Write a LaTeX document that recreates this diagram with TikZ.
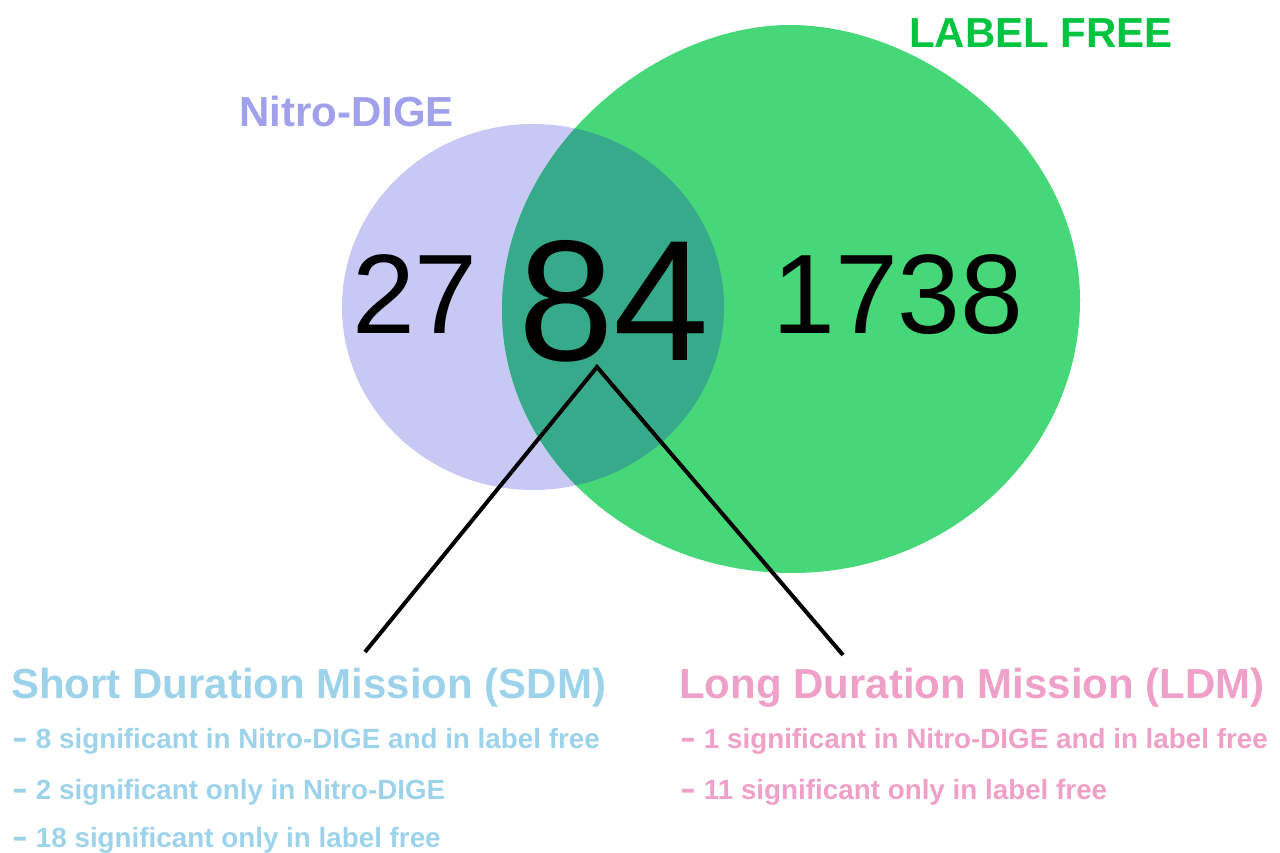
\documentclass[tikz,border=0pt]{standalone}
\usepackage{fontspec}
\setmainfont{Liberation Sans}
\usetikzlibrary{shapes.geometric}
\definecolor{nitrofill}{RGB}{200,200,245}
\definecolor{lffill}{RGB}{70,216,120}
\definecolor{ovfill}{RGB}{55,170,140}
\definecolor{nitrotxt}{RGB}{160,160,235}
\definecolor{lftxt}{RGB}{0,196,64}
\definecolor{sdmtxt}{RGB}{157,211,234}
\definecolor{ldmtxt}{RGB}{238,160,200}
\tikzset{
  settitle/.style={font=\fontsize{42}{42}\selectfont\bfseries, inner sep=0pt, anchor=base west},
  numlabel/.style={font=\fontsize{113}{113}\selectfont, inner sep=0pt, anchor=base},
  bignum/.style={font=\fontsize{172}{172}\selectfont, inner sep=0pt, anchor=base},
  heading/.style={font=\fontsize{42}{42}\selectfont\bfseries, inner sep=0pt, anchor=base west},
  bullet/.style={font=\fontsize{27.8}{27.8}\selectfont\bfseries, inner sep=0pt, anchor=base west},
  connector/.style={draw=black, line width=4pt}
}
\newcommand{\bdash}{\scalebox{1.7}[1.15]{-}\hspace{8pt}}
\def\lfshape{(1080,300) .. controls (1080,146) and (926,25) .. (790,25)
  .. controls (655,25) and (502,150) .. (502,310)
  .. controls (502,455) and (632,573) .. (792,573)
  .. controls (951,573) and (1080,451) .. (1080,300) -- cycle}
\begin{document}
\begin{tikzpicture}[x=1pt,y=-1pt]
\useasboundingbox (0,0) rectangle (1280,852);
% sets
\node[ellipse, fill=nitrofill, inner sep=0pt, minimum width=382pt, minimum height=366pt] (nitro) at (533,307) {};
\fill[lffill] \lfshape;
\begin{scope}
  \clip (533,307) ellipse [x radius=191, y radius=183];
  \fill[ovfill] \lfshape;
\end{scope}
% set titles
\node[settitle, text=nitrotxt] (nitrotitle) at (239,126) {Nitro-DIGE};
\node[settitle, text=lftxt] (lftitle) at (909,47) {LABEL FREE};
% counts
\node[numlabel] (only) at (415,333) {27};
\node[bignum] (both) at (614,360) {84};
\node[numlabel] (lfonly) at (898,333) {1738};
% connectors
\coordinate (apex) at (597,367);
\coordinate (sdmend) at (365,652);
\coordinate (ldmend) at (843,655);
\draw[connector] (sdmend) -- (apex) -- (ldmend);
% SDM
\node[heading, text=sdmtxt] (sdm) at (11,698) {Short Duration Mission (SDM)};
\node[bullet, text=sdmtxt] (sdm1) at (12,748) {\bdash 8 significant in Nitro-DIGE and in label free};
\node[bullet, text=sdmtxt] (sdm2) at (12,799) {\bdash 2 significant only in Nitro-DIGE};
\node[bullet, text=sdmtxt] (sdm3) at (12,847) {\bdash 18 significant only in label free};
% LDM
\node[heading, text=ldmtxt] (ldm) at (679,698) {Long Duration Mission (LDM)};
\node[bullet, text=ldmtxt] (ldm1) at (680,748) {\bdash 1 significant in Nitro-DIGE and in label free};
\node[bullet, text=ldmtxt] (ldm2) at (680,799) {\bdash 11 significant only in label free};
\end{tikzpicture}
\end{document}
